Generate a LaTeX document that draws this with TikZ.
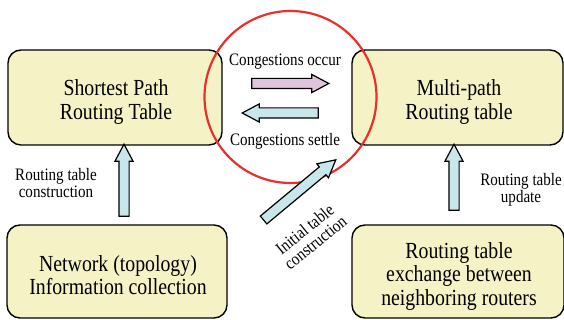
\documentclass[tikz,border=0pt]{standalone}
\usepackage{fontspec}
\setmainfont{Liberation Serif}[FakeStretch=0.86]
\usetikzlibrary{shapes.arrows}
\definecolor{boxfill}{HTML}{F5F2C6}
\definecolor{bluefill}{HTML}{C8E7EB}
\definecolor{pinkfill}{HTML}{E0C4DC}
\definecolor{ringred}{HTML}{E8302C}
\begin{document}
\begin{tikzpicture}[x=1pt,y=1pt,
  box/.style={draw=black, line width=1.4pt, fill=boxfill, rounded corners=13pt, inner sep=0pt},
  boxtext/.style={align=center, inner sep=0pt, font=\fontsize{23}{23.5}\selectfont},
  blockarrow/.style={single arrow, draw=black, line width=1.2pt, inner xsep=0pt, inner ysep=4.5pt,
    minimum width=18pt, single arrow head extend=4pt, single arrow tip angle=56,
    fill=bluefill},
  small/.style={align=center, font=\fontsize{17.5}{17}\selectfont, inner sep=0pt}
]
\useasboundingbox (0,0) rectangle (564,320);
% boxes
\node[box, minimum width=214pt, minimum height=95pt] (spt) at (115,222.5) {};
\node[box, minimum width=211pt, minimum height=95pt] (mpt) at (457.5,222.5) {};
\node[box, minimum width=220pt, minimum height=93pt] (net) at (117,48.5) {};
\node[box, minimum width=212pt, minimum height=93pt] (exch) at (458,48.5) {};
\node[boxtext] (spt-t) at (116,217.8) {Shortest Path\\Routing Table};
\node[boxtext] (mpt-t) at (459,217.8) {Multi-path\\Routing table};
\node[boxtext] (net-t) at (118,45) {Network (topology)\\Information collection};
\node[boxtext] (exch-t) at (459,43.8) {Routing table\\exchange between\\neighboring routers};
% red ring
\node[draw=ringred, line width=2.2pt, circle, minimum size=172pt, inner sep=0pt] (ring) at (290.5,223) {};
% arrows
\node[blockarrow, minimum height=77pt, fill=pinkfill] (occ) at (285.5,236.5) {};
\node[blockarrow, minimum height=76pt, rotate=180] (set) at (285,207) {};
\node[blockarrow, minimum height=72pt, rotate=90] (upl) at (124,135) {};
\node[blockarrow, minimum height=66pt, rotate=90] (upr) at (454,138) {};
\node[blockarrow, minimum height=94pt, rotate=39.8] (diag) at (296,127) {};
% labels
\node[small] (locc) at (285,258.4) {Congestions occur};
\node[small] (lset) at (285,178.4) {Congestions settle};
\node[small] (lrtc) at (56,137) {Routing table\\construction};
\node[small] (lrtu) at (521,130.5) {Routing table\\update};
\node[small, rotate=39] (linit) at (310,84) {Initial table\\construction};
\end{tikzpicture}
\end{document}
